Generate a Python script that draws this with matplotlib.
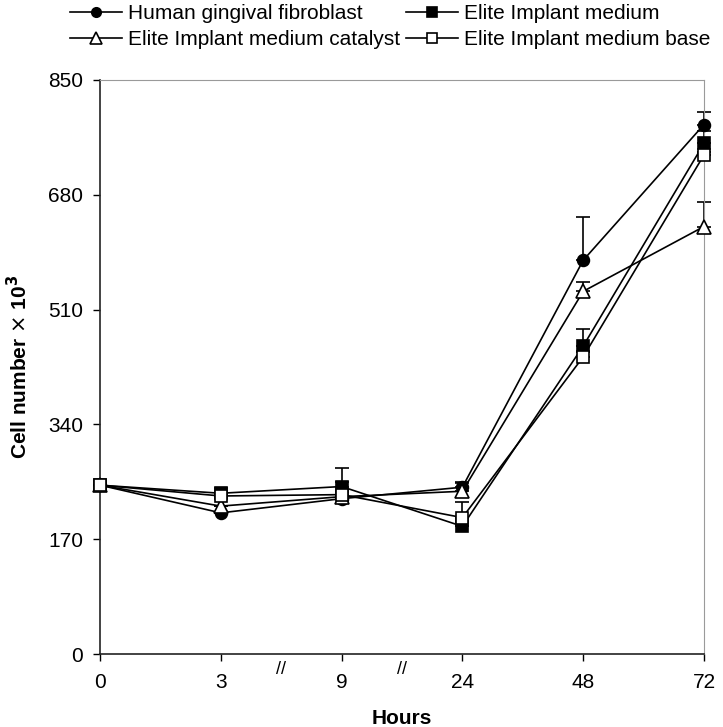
import numpy as np
import matplotlib
matplotlib.use("Agg")
from matplotlib import pyplot as plt
import matplotlib.transforms as mtransforms

plt.rcParams['font.family'] = ['Liberation Sans', 'DejaVu Sans']

hours = ['0', '3', '9', '24', '48', '72']

# cell number x 10^3
hgf = [250, 209, 230, 247, 583, 784]
hgf_err = [0, 0, 0, 6, 64, 19]
medium = [250, 238, 248, 189, 456, 756]
medium_err = [0, 8, 28, 0, 25, 19]
catalyst = [250, 219, 233, 241, 537, 633]
catalyst_err = [0, 0, 0, 14, 14, 36]
base = [250, 234, 236, 202, 440, 739]
base_err = [0, 0, 19, 23, 7, 5]

fig = plt.figure(figsize=(7.23, 7.27), dpi=100)
ax = fig.add_axes([0.1383, 0.1004, 0.8354, 0.7896])

x = np.arange(len(hours))
series = [
    ("Human gingival fibroblast", hgf, hgf_err, 'o', 'black'),
    ("Elite Implant medium", medium, medium_err, 's', 'black'),
    ("Elite Implant medium catalyst", catalyst, catalyst_err, '^', 'white'),
    ("Elite Implant medium base", base, base_err, 's', 'white'),
]

handles = {}
for name, y, err, mk, fc in series:
    ms = 10 if mk == '^' else 8.5
    ax.errorbar(x, y, yerr=[np.zeros(len(err)), err], fmt='none', ecolor='black',
                elinewidth=1.2, capsize=5, capthick=1.2, clip_on=False, zorder=2)
    ln, = ax.plot(x, y, color='black', lw=1.2, marker=mk, markersize=ms,
                  markerfacecolor=fc, markeredgecolor='black', markeredgewidth=1.2,
                  clip_on=False, zorder=3, label=name)
    handles[name] = ln

ax.set_xlim(0, 5)
ax.set_ylim(0, 850)
ax.set_xticks(x)
ax.set_xticklabels(hours)
ax.set_yticks([0, 170, 340, 510, 680, 850])
ax.tick_params(direction='out', length=5, width=1, labelsize=15)
ax.tick_params(axis='x', pad=9)
ax.tick_params(axis='y', pad=7)
for s in ['top', 'right']:
    ax.spines[s].set_color('#9a9a9a')
for s in ['left', 'bottom']:
    ax.spines[s].set_color('#222222')
    ax.spines[s].set_linewidth(1.2)

ax.set_xlabel("Hours", fontsize=15, fontweight='bold', labelpad=12)
ax.set_ylabel(r"Cell number $\times$ 10$^{\mathbf{3}}$", fontsize=15, fontweight='bold', labelpad=12)

# axis break marks
trans = mtransforms.blended_transform_factory(ax.transData, ax.transAxes)
for bx in [1.5, 2.5]:
    ax.text(bx, -0.012, '//', transform=trans, ha='center', va='top', fontsize=13)

order = ["Human gingival fibroblast", "Elite Implant medium catalyst",
         "Elite Implant medium", "Elite Implant medium base"]
fig.legend([handles[n] for n in order], order, ncol=2, frameon=False,
           loc='upper left', bbox_to_anchor=(70 / 723, 1 - 4 / 727), fontsize=15,
           handlelength=2.5, handletextpad=0.3, columnspacing=0.25,
           labelspacing=0.35, borderpad=0, borderaxespad=0, markerscale=0.8)

fig.savefig("out.png", dpi=100)
